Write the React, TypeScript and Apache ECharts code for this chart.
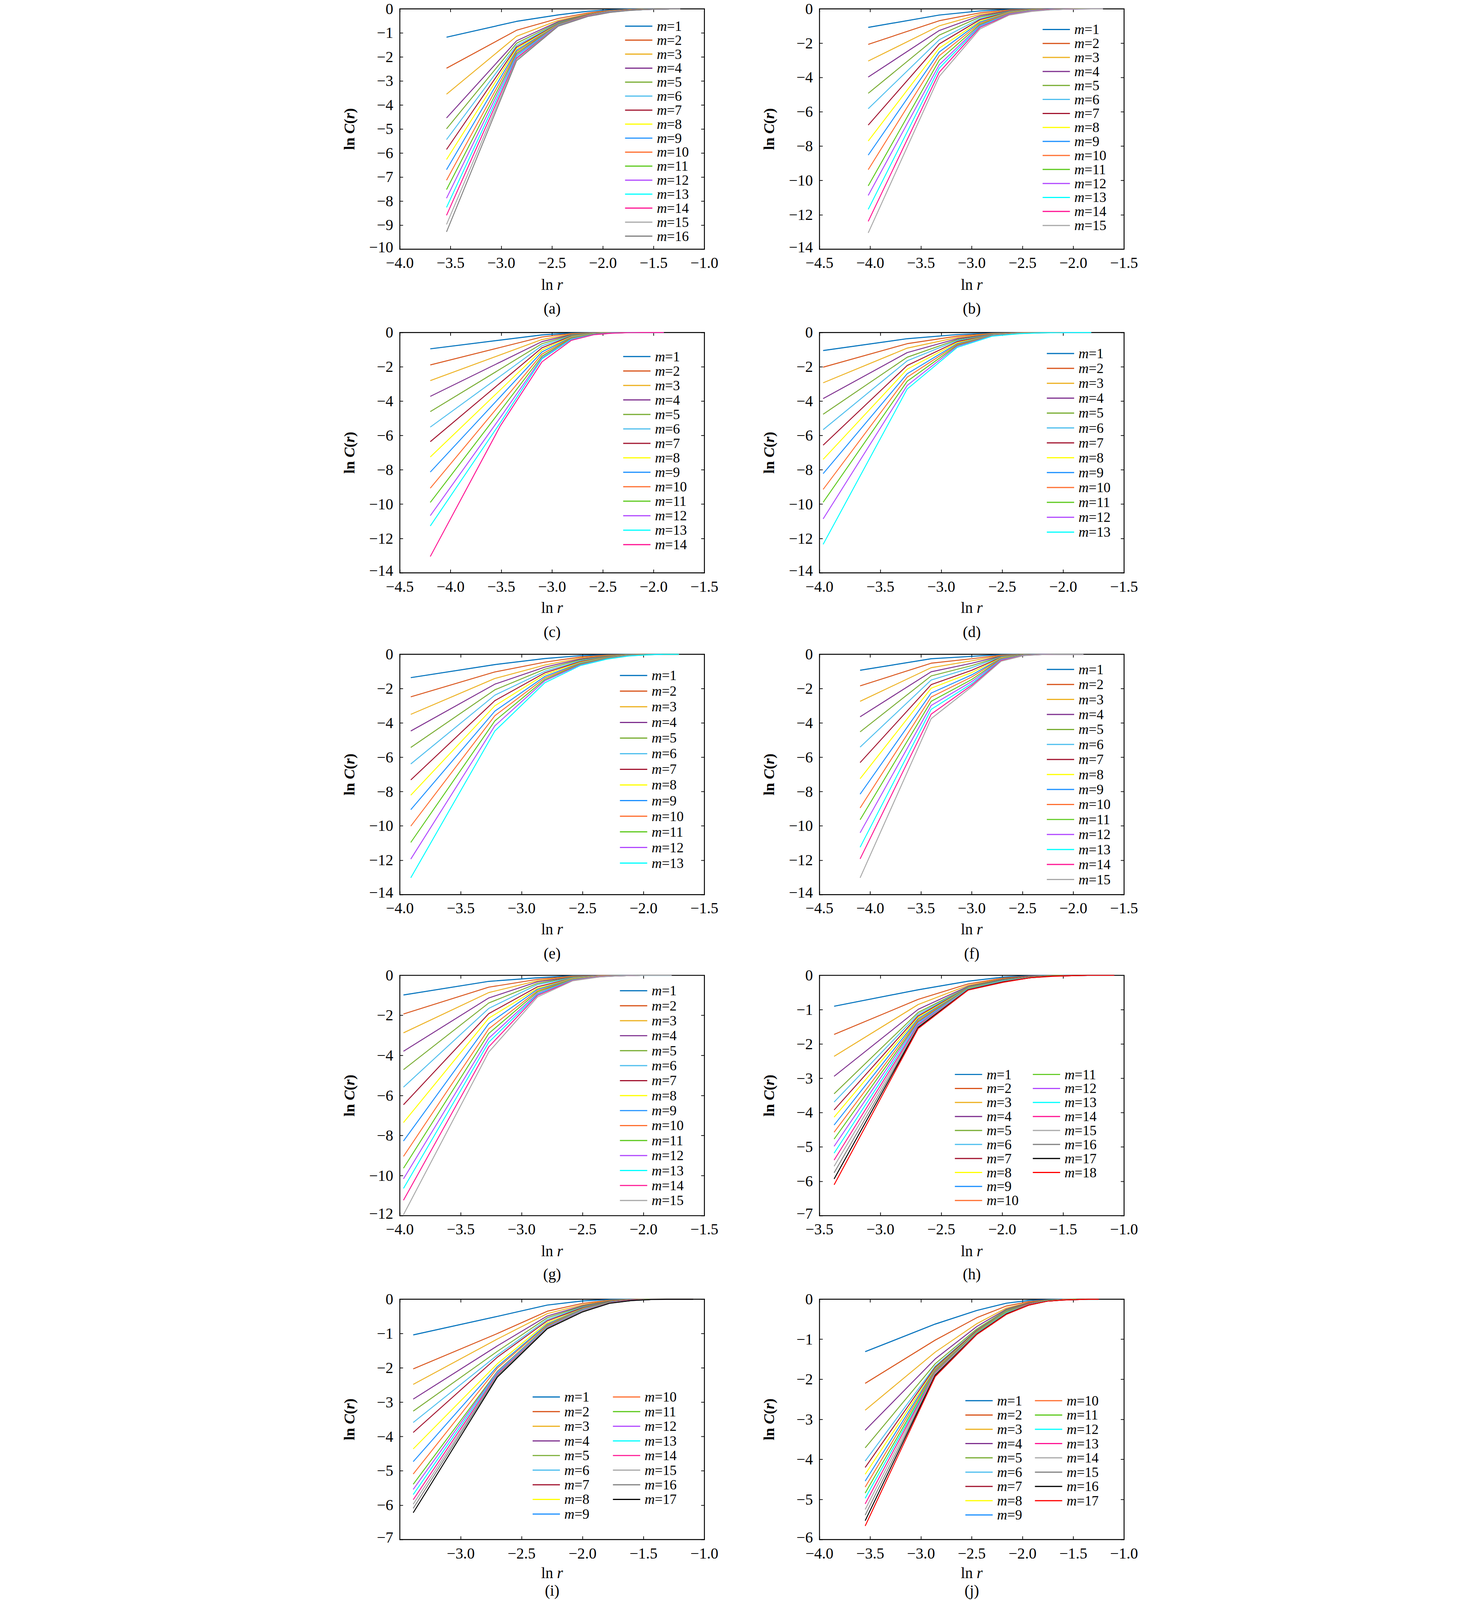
import React, { useEffect, useRef } from 'react'
import * as echarts from 'echarts'

const FONT = '"Liberation Serif", "Times New Roman", serif'
const PAGE_W = 3780
const PAGE_H = 6857

// 线条颜色（m=1 起）
const COLORS = [
  '#0072BD', '#D95319', '#EDB120', '#7E2F8E', '#77AC30', '#4DBEEE', '#A2142F', '#FFFF00', '#1A8FFF',
  '#FF6F30', '#5CC91C', '#B148FF', '#00FFFF', '#FF1493', '#A8A8A8', '#808080', '#000000', '#FF0000',
]
// (j) 图没有紫色
const COLORS_J = [
  '#0072BD', '#D95319', '#EDB120', '#7E2F8E', '#77AC30', '#4DBEEE', '#A2142F', '#FFFF00', '#1A8FFF',
  '#FF6F30', '#5CC91C', '#00FFFF', '#FF1493', '#A8A8A8', '#808080', '#000000', '#FF0000',
]

// (a)
const A_X = [-3.54, -2.85, -2.44, -2.15, -1.93, -1.75, -1.59, -1.46, -1.34, -1.24]
const A_Y = [
  [-1.18, -0.52, -0.25, -0.1, -0.04, -0.01, 0, 0, 0, 0],
  [-2.47, -0.89, -0.4, -0.17, -0.07, -0.03, -0.01, 0, 0, 0],
  [-3.55, -1.14, -0.48, -0.21, -0.09, -0.04, -0.01, 0, 0, 0],
  [-4.54, -1.33, -0.53, -0.23, -0.1, -0.04, -0.02, -0.01, 0, 0],
  [-4.99, -1.43, -0.57, -0.24, -0.11, -0.05, -0.02, -0.01, 0, 0],
  [-5.44, -1.52, -0.6, -0.25, -0.11, -0.05, -0.02, -0.01, 0, 0],
  [-5.85, -1.59, -0.62, -0.26, -0.12, -0.05, -0.02, -0.01, 0, 0],
  [-6.27, -1.65, -0.64, -0.27, -0.12, -0.05, -0.02, -0.01, 0, 0],
  [-6.69, -1.72, -0.65, -0.28, -0.12, -0.06, -0.02, -0.01, 0, 0],
  [-7.13, -1.78, -0.66, -0.28, -0.13, -0.06, -0.02, -0.01, 0, 0],
  [-7.52, -1.85, -0.67, -0.29, -0.13, -0.06, -0.03, -0.01, 0, 0],
  [-7.88, -1.91, -0.68, -0.29, -0.13, -0.06, -0.03, -0.01, 0, 0],
  [-8.26, -1.97, -0.69, -0.3, -0.14, -0.06, -0.03, -0.01, 0, 0],
  [-8.59, -2.04, -0.7, -0.3, -0.14, -0.06, -0.03, -0.01, 0, 0],
  [-8.97, -2.1, -0.71, -0.31, -0.14, -0.07, -0.03, -0.01, 0, 0],
  [-9.28, -2.16, -0.72, -0.32, -0.15, -0.07, -0.03, -0.01, 0, 0],
]

// (b)
const B_X = [-4.02, -3.32, -2.92, -2.63, -2.41, -2.23, -2.07, -1.94, -1.82, -1.71]
const B_Y = [
  [-1.08, -0.36, -0.12, -0.03, -0.01, 0, 0, 0, 0, 0],
  [-2.07, -0.69, -0.23, -0.06, -0.02, -0.01, 0, 0, 0, 0],
  [-3.04, -0.99, -0.32, -0.09, -0.03, -0.01, 0, 0, 0, 0],
  [-3.97, -1.26, -0.4, -0.11, -0.04, -0.01, 0, 0, 0, 0],
  [-4.92, -1.53, -0.48, -0.14, -0.05, -0.02, -0.01, 0, 0, 0],
  [-5.82, -1.8, -0.57, -0.16, -0.06, -0.02, -0.01, 0, 0, 0],
  [-6.77, -2.04, -0.63, -0.18, -0.07, -0.02, -0.01, 0, 0, 0],
  [-7.7, -2.29, -0.71, -0.2, -0.07, -0.03, -0.01, 0, 0, 0],
  [-8.52, -2.51, -0.77, -0.22, -0.08, -0.03, -0.01, 0, 0, 0],
  [-9.37, -2.73, -0.84, -0.24, -0.09, -0.03, -0.01, 0, 0, 0],
  [-10.31, -2.99, -0.91, -0.27, -0.1, -0.04, -0.01, 0, 0, 0],
  [-10.87, -3.25, -0.97, -0.29, -0.11, -0.04, -0.02, -0.01, 0, 0],
  [-11.68, -3.45, -1.02, -0.31, -0.12, -0.05, -0.02, -0.01, 0, 0],
  [-12.38, -3.69, -1.08, -0.33, -0.13, -0.05, -0.02, -0.01, 0, 0],
  [-13.05, -3.93, -1.17, -0.36, -0.15, -0.06, -0.02, -0.01, 0, 0],
]

// (c)
const C_X = [-4.2, -3.51, -3.1, -2.81, -2.59, -2.41, -2.25, -2.12, -2.0, -1.9]
const C_Y = [
  [-0.95, -0.44, -0.14, -0.03, 0, 0, 0, 0, 0, 0],
  [-1.89, -0.87, -0.26, -0.06, -0.01, 0, 0, 0, 0, 0],
  [-2.8, -1.3, -0.41, -0.09, -0.02, 0, 0, 0, 0, 0],
  [-3.72, -1.72, -0.53, -0.12, -0.03, -0.01, 0, 0, 0, 0],
  [-4.61, -2.13, -0.65, -0.15, -0.04, -0.01, 0, 0, 0, 0],
  [-5.51, -2.54, -0.77, -0.18, -0.05, -0.01, 0, 0, 0, 0],
  [-6.36, -2.93, -0.89, -0.21, -0.06, -0.02, 0, 0, 0, 0],
  [-7.25, -3.34, -1.01, -0.24, -0.07, -0.02, -0.01, 0, 0, 0],
  [-8.13, -3.74, -1.13, -0.27, -0.08, -0.02, -0.01, 0, 0, 0],
  [-9.07, -4.17, -1.26, -0.3, -0.09, -0.03, -0.01, 0, 0, 0],
  [-9.9, -4.56, -1.38, -0.33, -0.1, -0.03, -0.01, 0, 0, 0],
  [-10.67, -4.95, -1.47, -0.37, -0.11, -0.03, -0.01, 0, 0, 0],
  [-11.27, -5.25, -1.53, -0.4, -0.12, -0.04, -0.01, 0, 0, 0],
  [-13.05, -5.44, -1.71, -0.45, -0.13, -0.04, -0.01, 0, 0, 0],
]

// (d)
const D_X = [-3.97, -3.28, -2.87, -2.58, -2.36, -2.18, -2.02, -1.89, -1.77]
const D_Y = [
  [-1.05, -0.36, -0.12, -0.03, -0.01, 0, 0, 0, 0],
  [-2.02, -0.65, -0.21, -0.05, -0.01, 0, 0, 0, 0],
  [-2.93, -0.91, -0.29, -0.07, -0.02, 0, 0, 0, 0],
  [-3.85, -1.17, -0.36, -0.09, -0.02, -0.01, 0, 0, 0],
  [-4.76, -1.44, -0.42, -0.11, -0.03, -0.01, 0, 0, 0],
  [-5.66, -1.65, -0.47, -0.12, -0.03, -0.01, 0, 0, 0],
  [-6.56, -1.92, -0.53, -0.14, -0.04, -0.01, 0, 0, 0],
  [-7.39, -2.14, -0.59, -0.15, -0.04, -0.01, 0, 0, 0],
  [-8.22, -2.4, -0.65, -0.16, -0.05, -0.01, 0, 0, 0],
  [-9.14, -2.6, -0.7, -0.17, -0.05, -0.02, 0, 0, 0],
  [-9.89, -2.84, -0.75, -0.18, -0.06, -0.02, -0.01, 0, 0],
  [-10.86, -3.08, -0.8, -0.19, -0.06, -0.02, -0.01, 0, 0],
  [-12.34, -3.29, -0.87, -0.21, -0.07, -0.02, -0.01, 0, 0],
]

// (e)
const E_X = [-3.91, -3.22, -2.81, -2.52, -2.3, -2.12, -1.96, -1.83, -1.71]
const E_Y = [
  [-1.36, -0.6, -0.25, -0.08, -0.03, -0.01, 0, 0, 0],
  [-2.48, -1.03, -0.46, -0.16, -0.05, -0.02, 0, 0, 0],
  [-3.5, -1.41, -0.63, -0.22, -0.08, -0.03, -0.01, 0, 0],
  [-4.47, -1.74, -0.75, -0.28, -0.1, -0.04, -0.01, 0, 0],
  [-5.43, -2.07, -0.87, -0.33, -0.12, -0.04, -0.01, 0, 0],
  [-6.39, -2.38, -0.99, -0.38, -0.14, -0.05, -0.02, 0, 0],
  [-7.32, -2.7, -1.08, -0.43, -0.16, -0.06, -0.02, 0, 0],
  [-8.21, -3.0, -1.18, -0.47, -0.18, -0.06, -0.02, 0, 0],
  [-9.05, -3.31, -1.29, -0.51, -0.2, -0.07, -0.02, 0, 0],
  [-10.01, -3.58, -1.38, -0.55, -0.22, -0.08, -0.02, 0, 0],
  [-10.96, -3.88, -1.47, -0.58, -0.24, -0.09, -0.03, 0, 0],
  [-11.93, -4.17, -1.54, -0.62, -0.26, -0.09, -0.03, 0, 0],
  [-13.02, -4.47, -1.66, -0.66, -0.28, -0.1, -0.03, 0, 0],
]

// (f)
const F_X = [-4.1, -3.4, -3.0, -2.71, -2.49, -2.31, -2.15, -2.02, -1.9]
const F_Y = [
  [-0.93, -0.26, -0.12, -0.02, 0, 0, 0, 0, 0],
  [-1.84, -0.52, -0.26, -0.05, -0.01, 0, 0, 0, 0],
  [-2.74, -0.78, -0.38, -0.08, -0.01, 0, 0, 0, 0],
  [-3.64, -1.02, -0.52, -0.1, -0.02, 0, 0, 0, 0],
  [-4.52, -1.26, -0.66, -0.13, -0.02, -0.01, 0, 0, 0],
  [-5.41, -1.5, -0.78, -0.15, -0.03, -0.01, 0, 0, 0],
  [-6.31, -1.77, -0.93, -0.18, -0.03, -0.01, 0, 0, 0],
  [-7.25, -1.98, -1.06, -0.2, -0.04, -0.01, 0, 0, 0],
  [-8.15, -2.26, -1.2, -0.23, -0.04, -0.01, 0, 0, 0],
  [-8.95, -2.49, -1.32, -0.25, -0.05, -0.01, 0, 0, 0],
  [-9.64, -2.74, -1.47, -0.28, -0.05, -0.01, 0, 0, 0],
  [-10.4, -2.98, -1.59, -0.3, -0.06, -0.01, 0, 0, 0],
  [-11.24, -3.21, -1.71, -0.33, -0.06, -0.02, 0, 0, 0],
  [-11.92, -3.49, -1.8, -0.36, -0.07, -0.02, 0, 0, 0],
  [-13.02, -3.75, -1.89, -0.4, -0.08, -0.02, 0, 0, 0],
]

// (g)
const G_X = [-3.97, -3.27, -2.87, -2.58, -2.36, -2.17, -2.02, -1.89, -1.77]
const G_Y = [
  [-0.98, -0.3, -0.12, -0.02, -0.01, 0, 0, 0, 0],
  [-1.93, -0.59, -0.2, -0.04, -0.01, 0, 0, 0, 0],
  [-2.87, -0.86, -0.27, -0.06, -0.02, 0, 0, 0, 0],
  [-3.79, -1.13, -0.32, -0.08, -0.02, -0.01, 0, 0, 0],
  [-4.71, -1.38, -0.4, -0.1, -0.03, -0.01, 0, 0, 0],
  [-5.58, -1.65, -0.46, -0.12, -0.03, -0.01, 0, 0, 0],
  [-6.46, -1.91, -0.57, -0.14, -0.04, -0.01, 0, 0, 0],
  [-7.35, -2.14, -0.65, -0.15, -0.04, -0.01, 0, 0, 0],
  [-8.27, -2.41, -0.7, -0.17, -0.05, -0.01, 0, 0, 0],
  [-9.04, -2.67, -0.77, -0.18, -0.05, -0.02, 0, 0, 0],
  [-9.63, -2.9, -0.83, -0.2, -0.06, -0.02, 0, 0, 0],
  [-10.16, -3.14, -0.9, -0.22, -0.06, -0.02, 0, 0, 0],
  [-10.64, -3.34, -0.95, -0.23, -0.07, -0.02, 0, 0, 0],
  [-11.23, -3.57, -1.0, -0.25, -0.07, -0.02, 0, 0, 0],
  [-11.95, -3.83, -1.08, -0.27, -0.08, -0.02, 0, 0, 0],
]

// (h)
const H_X = [-3.38, -2.69, -2.28, -1.99, -1.77, -1.59, -1.43, -1.3, -1.18, -1.08]
const H_Y = [
  [-0.9, -0.42, -0.17, -0.05, -0.01, 0, 0, 0, 0, 0],
  [-1.72, -0.7, -0.25, -0.08, -0.02, -0.01, 0, 0, 0, 0],
  [-2.36, -0.85, -0.29, -0.1, -0.03, -0.01, 0, 0, 0, 0],
  [-2.94, -0.99, -0.32, -0.11, -0.03, -0.01, 0, 0, 0, 0],
  [-3.45, -1.08, -0.34, -0.12, -0.04, -0.01, 0, 0, 0, 0],
  [-3.69, -1.13, -0.35, -0.13, -0.04, -0.01, 0, 0, 0, 0],
  [-3.92, -1.18, -0.36, -0.13, -0.04, -0.01, 0, 0, 0, 0],
  [-4.13, -1.22, -0.37, -0.14, -0.05, -0.01, 0, 0, 0, 0],
  [-4.36, -1.26, -0.38, -0.14, -0.05, -0.02, 0, 0, 0, 0],
  [-4.57, -1.3, -0.39, -0.15, -0.05, -0.02, 0, 0, 0, 0],
  [-4.77, -1.34, -0.39, -0.15, -0.05, -0.02, -0.01, 0, 0, 0],
  [-4.98, -1.37, -0.4, -0.16, -0.06, -0.02, -0.01, 0, 0, 0],
  [-5.18, -1.41, -0.4, -0.16, -0.06, -0.02, -0.01, 0, 0, 0],
  [-5.38, -1.44, -0.41, -0.17, -0.06, -0.02, -0.01, 0, 0, 0],
  [-5.56, -1.47, -0.41, -0.17, -0.06, -0.02, -0.01, 0, 0, 0],
  [-5.75, -1.5, -0.42, -0.18, -0.07, -0.02, -0.01, 0, 0, 0],
  [-5.93, -1.52, -0.42, -0.19, -0.07, -0.02, -0.01, 0, 0, 0],
  [-6.1, -1.55, -0.43, -0.2, -0.07, -0.03, -0.01, 0, 0, 0],
]

// (i)
const I_X = [-3.39, -2.7, -2.29, -2.0, -1.78, -1.6, -1.44, -1.31, -1.19, -1.09]
const I_Y = [
  [-1.04, -0.5, -0.17, -0.05, -0.01, 0, 0, 0, 0, 0],
  [-2.03, -1.0, -0.35, -0.12, -0.03, -0.01, 0, 0, 0, 0],
  [-2.48, -1.16, -0.42, -0.16, -0.04, -0.01, 0, 0, 0, 0],
  [-2.91, -1.36, -0.49, -0.19, -0.05, -0.02, 0, 0, 0, 0],
  [-3.26, -1.52, -0.54, -0.21, -0.06, -0.02, 0, 0, 0, 0],
  [-3.59, -1.63, -0.59, -0.23, -0.07, -0.02, -0.01, 0, 0, 0],
  [-3.88, -1.69, -0.63, -0.25, -0.07, -0.02, -0.01, 0, 0, 0],
  [-4.36, -1.88, -0.68, -0.27, -0.08, -0.03, -0.01, 0, 0, 0],
  [-4.73, -1.96, -0.72, -0.28, -0.08, -0.03, -0.01, 0, 0, 0],
  [-5.09, -2.01, -0.75, -0.29, -0.09, -0.03, -0.01, 0, 0, 0],
  [-5.39, -2.1, -0.78, -0.3, -0.09, -0.03, -0.01, 0, 0, 0],
  [-5.54, -2.12, -0.8, -0.31, -0.1, -0.03, -0.01, 0, 0, 0],
  [-5.69, -2.15, -0.81, -0.32, -0.1, -0.03, -0.01, 0, 0, 0],
  [-5.84, -2.18, -0.82, -0.33, -0.1, -0.03, -0.01, 0, 0, 0],
  [-5.97, -2.21, -0.83, -0.34, -0.11, -0.04, -0.01, 0, 0, 0],
  [-6.09, -2.23, -0.84, -0.35, -0.11, -0.04, -0.01, 0, 0, 0],
  [-6.22, -2.27, -0.86, -0.37, -0.12, -0.04, -0.01, 0, 0, 0],
]

// (j)
const J_X = [-3.55, -2.86, -2.45, -2.16, -1.94, -1.76, -1.6, -1.47, -1.35, -1.25]
const J_Y = [
  [-1.31, -0.62, -0.28, -0.1, -0.03, -0.01, 0, 0, 0, 0],
  [-2.1, -1.02, -0.46, -0.17, -0.06, -0.02, -0.01, 0, 0, 0],
  [-2.77, -1.32, -0.61, -0.22, -0.08, -0.03, -0.01, 0, 0, 0],
  [-3.27, -1.49, -0.68, -0.25, -0.09, -0.03, -0.01, 0, 0, 0],
  [-3.71, -1.61, -0.74, -0.27, -0.1, -0.03, -0.01, 0, 0, 0],
  [-4.04, -1.67, -0.77, -0.29, -0.11, -0.04, -0.01, 0, 0, 0],
  [-4.2, -1.7, -0.78, -0.3, -0.11, -0.04, -0.01, 0, 0, 0],
  [-4.37, -1.73, -0.8, -0.31, -0.12, -0.04, -0.01, 0, 0, 0],
  [-4.54, -1.75, -0.81, -0.32, -0.12, -0.04, -0.01, 0, 0, 0],
  [-4.69, -1.77, -0.82, -0.33, -0.12, -0.04, -0.01, 0, 0, 0],
  [-4.84, -1.8, -0.83, -0.33, -0.13, -0.04, -0.02, 0, 0, 0],
  [-4.97, -1.82, -0.84, -0.34, -0.13, -0.04, -0.02, -0.01, 0, 0],
  [-5.11, -1.83, -0.85, -0.35, -0.13, -0.05, -0.02, -0.01, 0, 0],
  [-5.25, -1.85, -0.85, -0.35, -0.14, -0.05, -0.02, -0.01, 0, 0],
  [-5.39, -1.88, -0.86, -0.36, -0.14, -0.05, -0.02, -0.01, 0, 0],
  [-5.53, -1.9, -0.87, -0.37, -0.15, -0.05, -0.02, -0.01, 0, 0],
  [-5.66, -1.93, -0.88, -0.38, -0.15, -0.05, -0.02, -0.01, 0, 0],
]

// 版面
const COL_LEFT = [439, 2237]
const PLOT_W = 1305
const ROW_TOP = [38, 1425, 2804, 4180, 5568]
const PLOT_H = 1030
const XLABEL_OFF = [153, 150, 148, 152, 144]
const CAPTION_OFF = [255, 253, 252, 250, 218]

interface Panel {
  key: string
  col: number
  row: number
  xs: number[]
  ys: number[][]
  xMin: number
  xMax: number
  yMin: number
  yStep: number
  colors: string[]
  legendLeft: number[]
  legendSplit: number
  legendCenter: number
  legendPitch: number
  hideMinX?: boolean
}

const PANELS: Panel[] = [
  { key: 'a', col: 0, row: 0, xs: A_X, ys: A_Y, xMin: -4, xMax: -1, yMin: -10, yStep: 1, colors: COLORS, legendLeft: [1404], legendSplit: 16, legendCenter: 112, legendPitch: 60 },
  { key: 'b', col: 1, row: 0, xs: B_X, ys: B_Y, xMin: -4.5, xMax: -1.5, yMin: -14, yStep: 2, colors: COLORS, legendLeft: [3193], legendSplit: 15, legendCenter: 126, legendPitch: 59.6 },
  { key: 'c', col: 0, row: 1, xs: C_X, ys: C_Y, xMin: -4.5, xMax: -1.5, yMin: -14, yStep: 2, colors: COLORS, legendLeft: [1396], legendSplit: 14, legendCenter: 1528, legendPitch: 62 },
  { key: 'd', col: 1, row: 1, xs: D_X, ys: D_Y, xMin: -4, xMax: -1.5, yMin: -14, yStep: 2, colors: COLORS, legendLeft: [3211], legendSplit: 13, legendCenter: 1515, legendPitch: 63.8 },
  { key: 'e', col: 0, row: 2, xs: E_X, ys: E_Y, xMin: -4, xMax: -1.5, yMin: -14, yStep: 2, colors: COLORS, legendLeft: [1382], legendSplit: 13, legendCenter: 2895, legendPitch: 67 },
  { key: 'f', col: 1, row: 2, xs: F_X, ys: F_Y, xMin: -4.5, xMax: -1.5, yMin: -14, yStep: 2, colors: COLORS, legendLeft: [3211], legendSplit: 15, legendCenter: 2869, legendPitch: 64.3 },
  { key: 'g', col: 0, row: 3, xs: G_X, ys: G_Y, xMin: -4, xMax: -1.5, yMin: -12, yStep: 2, colors: COLORS, legendLeft: [1382], legendSplit: 15, legendCenter: 4246, legendPitch: 64.2 },
  { key: 'h', col: 1, row: 3, xs: H_X, ys: H_Y, xMin: -3.5, xMax: -1, yMin: -7, yStep: 1, colors: COLORS, legendLeft: [2817, 3151], legendSplit: 10, legendCenter: 4604, legendPitch: 58.5 },
  { key: 'i', col: 0, row: 4, xs: I_X, ys: I_Y, xMin: -3.5, xMax: -1, yMin: -7, yStep: 1, colors: COLORS, legendLeft: [1008, 1352], legendSplit: 9, legendCenter: 5987, legendPitch: 62.7, hideMinX: true },
  { key: 'j', col: 1, row: 4, xs: J_X, ys: J_Y, xMin: -4, xMax: -1, yMin: -6, yStep: 1, colors: COLORS_J, legendLeft: [2862, 3160], legendSplit: 9, legendCenter: 6003, legendPitch: 61.2 },
]

const minus = (s: string) => s.replace('-', '\u2212')

function buildOption() {
  const grid: any[] = []
  const xAxis: any[] = []
  const yAxis: any[] = []
  const series: any[] = []
  const legend: any[] = []
  const graphic: any[] = []

  const axisLine = { onZero: false, lineStyle: { color: '#000', width: 4 } }
  const axisTick = { inside: true, length: 14, lineStyle: { color: '#000', width: 3 } }
  const labelBase = { color: '#000', fontFamily: FONT, fontSize: 66, lineHeight: 50 }

  PANELS.forEach((p, k) => {
    const left = COL_LEFT[p.col]
    const top = ROW_TOP[p.row]
    grid.push({ left, top, width: PLOT_W, height: PLOT_H })

    const xBase = { gridIndex: k, type: 'value', min: p.xMin, max: p.xMax, interval: 0.5, axisLine, axisTick, splitLine: { show: false } }
    xAxis.push({
      ...xBase,
      position: 'bottom',
      axisLabel: { ...labelBase, margin: 34, showMinLabel: !p.hideMinX, formatter: (v: number) => minus(v.toFixed(1)) },
    })
    xAxis.push({ ...xBase, position: 'top', axisLabel: { show: false } })

    const yBase = { gridIndex: k, type: 'value', min: p.yMin, max: 0, interval: p.yStep, axisLine, axisTick, splitLine: { show: false } }
    yAxis.push({
      ...yBase,
      position: 'left',
      axisLabel: {
        ...labelBase,
        margin: 28,
        // 最下面的刻度值稍微上移，避免与 x 轴刻度值相碰
        formatter: (v: number) => (v === p.yMin ? `{low|${minus(String(v))}}` : minus(String(v))),
        rich: { low: { fontFamily: FONT, fontSize: 66, color: '#000', lineHeight: 50, padding: [0, 0, 18, 0] } },
      },
    })
    yAxis.push({ ...yBase, position: 'right', axisLabel: { show: false } })

    const names: string[] = []
    p.ys.forEach((row, i) => {
      const name = `${p.key}-${i + 1}`
      names.push(name)
      const color = p.colors[i]
      series.push({
        type: 'line',
        name,
        xAxisIndex: 2 * k,
        yAxisIndex: 2 * k,
        data: p.xs.map((x, j) => [x, row[j]]),
        symbol: 'none',
        showSymbol: false,
        silent: true,
        lineStyle: { width: i === 0 ? 4.5 : 4, color },
        itemStyle: { color },
      })
    })

    const rich = {
      i: { fontFamily: FONT, fontSize: 60, fontStyle: 'italic', color: '#000', lineHeight: p.legendPitch, padding: [0, 0, 0, 14] },
      n: { fontFamily: FONT, fontSize: 60, color: '#000', lineHeight: p.legendPitch },
    }
    const cols = p.legendLeft.length === 1 ? [names] : [names.slice(0, p.legendSplit), names.slice(p.legendSplit)]
    cols.forEach((data, c) => {
      legend.push({
        orient: 'vertical',
        left: p.legendLeft[c],
        top: p.legendCenter - p.legendPitch / 2,
        padding: 0,
        itemGap: 0,
        itemWidth: 117,
        itemHeight: 5,
        icon: 'rect',
        selectedMode: false,
        data,
        formatter: (name: string) => `{i|m}{n|=${name.split('-')[1]}}`,
        textStyle: { fontFamily: FONT, fontSize: 60, color: '#000', lineHeight: p.legendPitch, rich },
      })
    })

    const cx = left + PLOT_W / 2
    const bottom = top + PLOT_H
    graphic.push({
      type: 'text',
      x: left - 217,
      y: top + PLOT_H / 2,
      rotation: Math.PI / 2,
      style: {
        text: '{b|ln }{bi|C}{b|(}{bi|r}{b|)}',
        align: 'center',
        verticalAlign: 'middle',
        fill: '#000',
        rich: {
          b: { fontFamily: FONT, fontSize: 64, fontWeight: 'bold', fill: '#000' },
          bi: { fontFamily: FONT, fontSize: 64, fontWeight: 'bold', fontStyle: 'italic', fill: '#000' },
        },
      },
    })
    graphic.push({
      type: 'text',
      x: cx,
      y: bottom + XLABEL_OFF[p.row],
      style: {
        text: '{n|ln }{i|r}',
        align: 'center',
        verticalAlign: 'middle',
        fill: '#000',
        rich: {
          n: { fontFamily: FONT, fontSize: 66, fill: '#000' },
          i: { fontFamily: FONT, fontSize: 66, fontStyle: 'italic', fill: '#000' },
        },
      },
    })
    graphic.push({
      type: 'text',
      x: cx,
      y: bottom + CAPTION_OFF[p.row],
      style: { text: `(${p.key})`, align: 'center', verticalAlign: 'middle', fill: '#000', font: `66px ${FONT}` },
    })
  })

  return {
    animation: false,
    backgroundColor: '#ffffff',
    grid,
    xAxis,
    yAxis,
    legend,
    series,
    graphic,
  }
}

export default function App() {
  const chartRef = useRef<HTMLDivElement>(null)

  // 浏览器窗口可能比图矮：整体等比缩放，保证所有文字都在可见区域内
  const vw = typeof window !== 'undefined' ? window.innerWidth : PAGE_W
  const vh = typeof window !== 'undefined' ? window.innerHeight : PAGE_H
  const scale = Math.min(1, vw / PAGE_W, vh / PAGE_H)
  const offsetX = Math.max(0, (vw - PAGE_W * scale) / 2)

  useEffect(() => {
    if (!chartRef.current) return
    const chart = echarts.init(chartRef.current, undefined, { renderer: 'svg' })
    chart.setOption(buildOption())
    return () => {
      chart.dispose()
    }
  }, [])

  return (
    <div style={{ position: 'fixed', left: 0, top: 0, width: '100vw', height: '100vh', background: '#fff', overflow: 'hidden' }}>
      <div
        ref={chartRef}
        style={{
          position: 'absolute',
          left: offsetX,
          top: 0,
          width: `${PAGE_W}px`,
          height: `${PAGE_H}px`,
          transform: `scale(${scale})`,
          transformOrigin: '0 0',
          background: '#fff',
        }}
      />
    </div>
  )
}
